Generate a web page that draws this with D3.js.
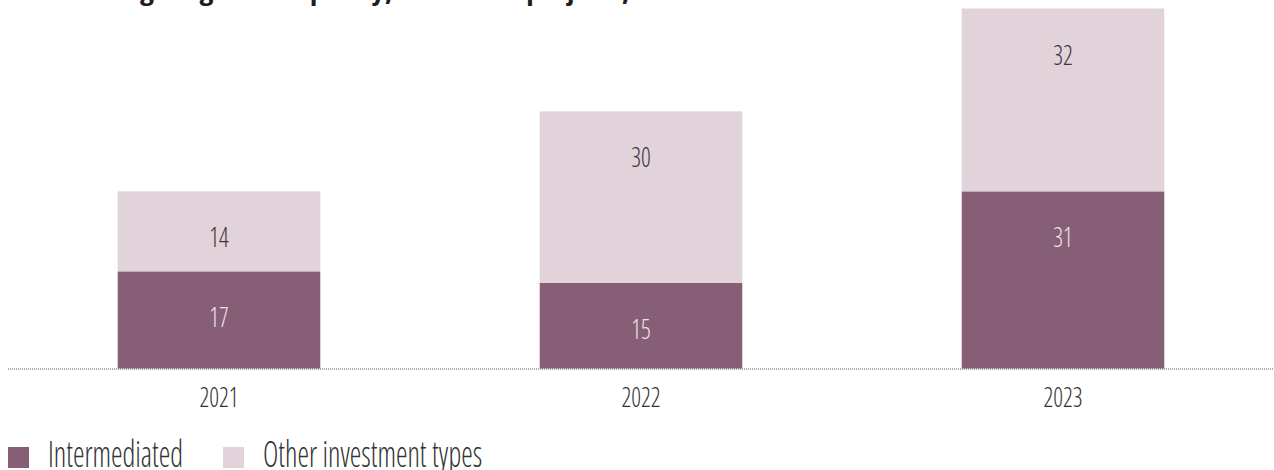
<!DOCTYPE html>
<html>
<head>
<meta charset="utf-8">
<script src="https://cdn.jsdelivr.net/npm/d3@7"></script>
<style>
  html, body { margin: 0; padding: 0; background: #fff; overflow: hidden; }
  svg { display: block; }
  .lbl { font-family: "Open Sans", "Liberation Sans Narrow", sans-serif; font-weight: 300; font-stretch: 75%; }
  .ttl { font-family: "Open Sans", "Liberation Sans", sans-serif; font-weight: 700; font-stretch: 75%; }
</style>
</head>
<body>
<svg id="chart" width="1274" height="470"></svg>
<script>
/* --- Data: --- */
var years = ["2021", "2022", "2023"];
var intermediated = [17, 15, 31];
var otherTypes = [14, 30, 32];
var seriesNames = ["Intermediated", "Other investment types"];
var titleText = "Total lending for gender equality, number of projects, 2021\u20132023";

// colours
var darkCol = "#865e75";
var lightCol = "#e2d3da";

var width = 1274;
var height = 470;
var svg = d3.select("#chart");

var x = d3.scaleBand().domain(years).range([8, 1274]).paddingInner(0.52).paddingOuter(0.26);
var y = d3.scaleLinear().domain([0, 63]).range([368.5, 8.5]);

// squeeze text horizontally to mimic the condensed face
function squeeze(sel, k) {
    sel.each(function () {
        var w = this.getComputedTextLength();
        d3.select(this).attr("textLength", w * k).attr("lengthAdjust", "spacingAndGlyphs");
    });
}

/* --- Title (cut off at the top of the picture) --- */
var title = svg.append("text")
    .attr("class", "ttl")
    .attr("x", 0)
    .attr("y", 0)
    .attr("font-size", 26)
    .attr("fill", "#1e1e1e")
    .text(titleText);
// place so that the descenders land where the reference shows them
(function () {
    var node = title.node();
    var gi = titleText.indexOf("lending") + 6;
    var ci = titleText.indexOf("projects,") + 8;
    var p0 = node.getStartPositionOfChar(gi).x;
    var p1 = node.getStartPositionOfChar(ci).x;
    var s = (622 - 140) / (p1 - p0);
    title.attr("transform", "translate(" + (140 - p0 * s) + ",0) scale(" + s + ",1)");
})();

/* --- Bars --- */
var rows = years.map(function (yr, i) {
    return { year: yr, a: intermediated[i], b: otherTypes[i] };
});

var g = svg.append("g");

g.selectAll("rect.int")
    .data(rows)
    .join("rect")
    .attr("class", "int")
    .attr("x", d => x(d.year))
    .attr("width", x.bandwidth())
    .attr("y", d => y(d.a))
    .attr("height", d => y(0) - y(d.a))
    .attr("fill", darkCol);

g.selectAll("rect.oth")
    .data(rows)
    .join("rect")
    .attr("class", "oth")
    .attr("x", d => x(d.year))
    .attr("width", x.bandwidth())
    .attr("y", d => y(d.a + d.b))
    .attr("height", d => y(d.a) - y(d.a + d.b))
    .attr("fill", lightCol);

// value labels
var vIn = g.selectAll("text.vin")
    .data(rows)
    .join("text")
    .attr("class", "lbl vin")
    .attr("x", d => x(d.year) + x.bandwidth() / 2)
    .attr("y", d => y(d.a) + 56)
    .attr("text-anchor", "middle")
    .attr("font-size", 27)
    .attr("fill", "#eee2e8")
    .text(d => d.a);

var vOt = g.selectAll("text.vot")
    .data(rows)
    .join("text")
    .attr("class", "lbl vot")
    .attr("x", d => x(d.year) + x.bandwidth() / 2)
    .attr("y", d => y(d.a + d.b) + 56)
    .attr("text-anchor", "middle")
    .attr("font-size", 27)
    .attr("fill", "#3a3639")
    .text(d => d.b);

/* --- Baseline (dotted) --- */
svg.append("line")
    .attr("x1", 8)
    .attr("x2", 1274)
    .attr("y1", y(0) + 0.5)
    .attr("y2", y(0) + 0.5)
    .attr("stroke", "#555")
    .attr("stroke-width", 1)
    .attr("stroke-dasharray", "1,1");

/* --- Year axis --- */
var xAxis = svg.append("g")
    .attr("transform", "translate(0," + 407 + ")")
    .call(d3.axisBottom(x).tickSize(0).tickPadding(0));
xAxis.select(".domain").remove();
xAxis.selectAll("text")
    .attr("class", "lbl")
    .attr("dy", 0)
    .attr("font-size", 27)
    .attr("fill", "#333");

/* --- Legend --- */
var legendX = [8, 223];
var legend = svg.append("g")
    .selectAll("g")
    .data(seriesNames)
    .join("g")
    .attr("transform", (d, i) => "translate(" + legendX[i] + ",447)");
legend.append("rect")
    .attr("width", 21)
    .attr("height", 21)
    .attr("fill", (d, i) => i == 0 ? darkCol : lightCol);
var legText = legend.append("text")
    .attr("class", "lbl")
    .attr("x", 40)
    .attr("y", 20)
    .attr("font-size", 36)
    .attr("fill", "#333")
    .text(d => d);

/* --- condense all the light labels --- */
var probe = svg.append("text").attr("class", "lbl").attr("font-size", 27).text("2022");
var kSmall = 39 / probe.node().getComputedTextLength();
probe.attr("font-size", 36).text("Intermediated");
var kLegend = 135 / probe.node().getComputedTextLength();
probe.remove();

squeeze(vIn, kSmall);
squeeze(vOt, kSmall);
squeeze(xAxis.selectAll("text"), kSmall);
squeeze(legText, kLegend);
</script>
</body>
</html>
